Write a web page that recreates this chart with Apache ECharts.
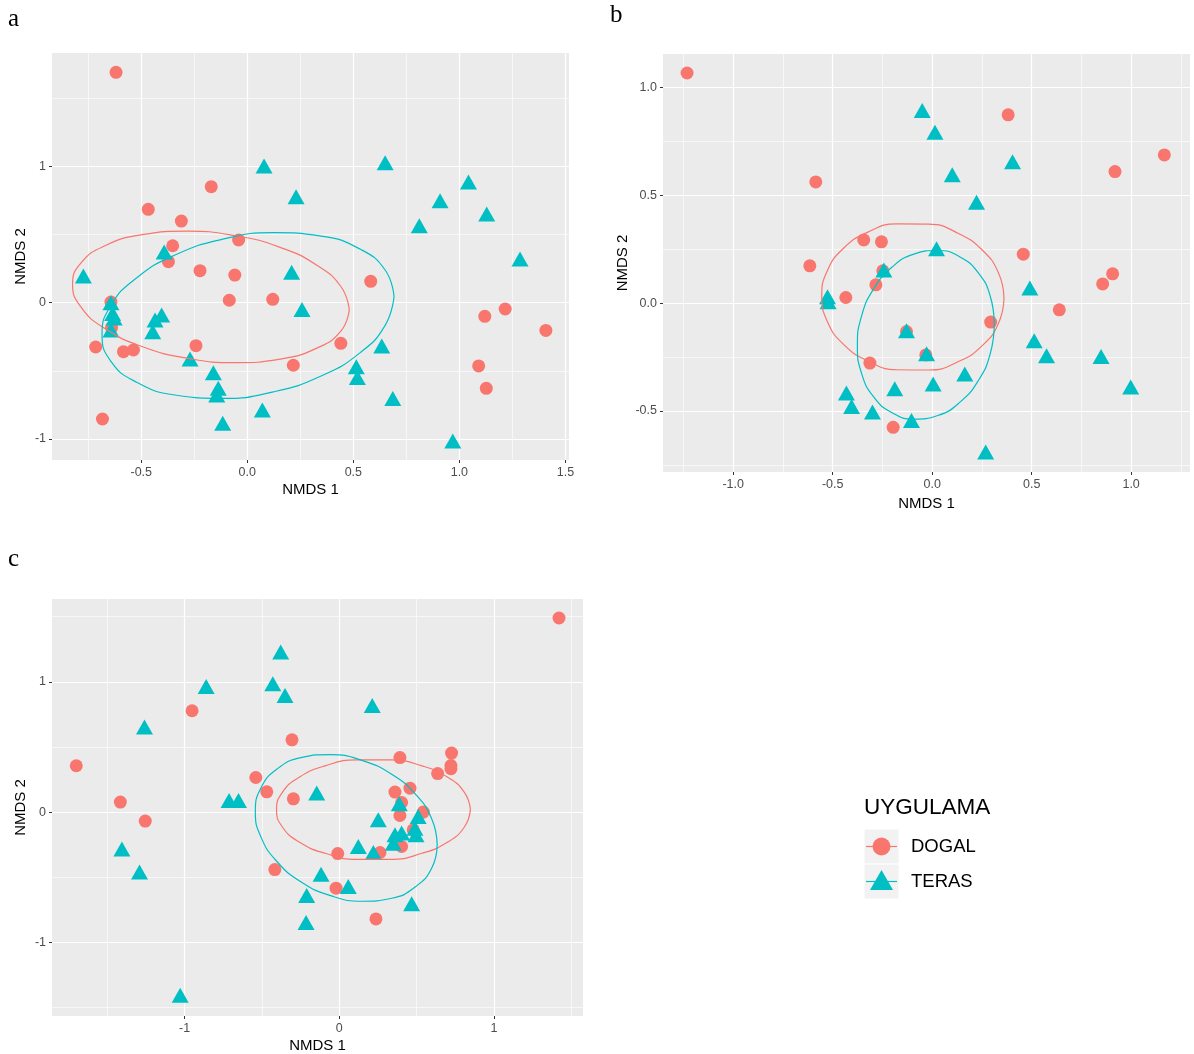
<!DOCTYPE html>
<html><head><meta charset="utf-8">
<script src="https://cdn.jsdelivr.net/npm/echarts@6/dist/echarts.min.js"></script>
<style>html,body{margin:0;padding:0;background:#fff}#c{width:1194px;height:1054px}</style>
</head><body><div id="c"></div><script>
// ---------- data (NMDS 1, NMDS 2) ----------
const aDogal = [[-0.619,1.690],[-0.170,0.851],[-0.467,0.685],[-0.311,0.599],[-0.352,0.418],[-0.041,0.460],[-0.372,0.301],[-0.223,0.235],[-0.059,0.203],[-0.085,0.018],[0.120,0.025],[-0.643,0.005],[-0.640,-0.183],[-0.715,-0.325],[-0.584,-0.359],[-0.537,-0.347],[-0.242,-0.315],[-0.683,-0.853],[0.217,-0.459],[0.582,0.157],[0.441,-0.298],[1.120,-0.100],[1.216,-0.046],[1.408,-0.203],[1.091,-0.464],[1.127,-0.628]];
const aTeras = [[0.079,1.003],[0.650,1.027],[0.230,0.778],[1.043,0.886],[0.909,0.748],[1.129,0.651],[0.811,0.565],[1.286,0.321],[-0.392,0.372],[-0.773,0.196],[0.209,0.223],[0.258,-0.049],[0.634,-0.318],[0.514,-0.469],[0.519,-0.548],[0.686,-0.702],[0.969,-1.015],[-0.643,0.0],[-0.635,-0.08],[-0.628,-0.112],[-0.643,-0.2],[-0.435,-0.127],[-0.404,-0.09],[-0.446,-0.213],[-0.270,-0.413],[-0.160,-0.513],[-0.137,-0.628],[-0.144,-0.677],[0.071,-0.787],[-0.116,-0.885]];
const bDogal = [[-1.232,1.067],[-0.585,0.562],[-0.344,0.293],[-0.255,0.284],[-0.615,0.173],[-0.283,0.085],[-0.248,0.150],[0.382,0.873],[1.167,0.687],[0.919,0.610],[0.458,0.227],[0.907,0.136],[0.857,0.089],[0.639,-0.031],[0.294,-0.088],[-0.129,-0.132],[-0.032,-0.240],[-0.196,-0.576],[-0.434,0.026],[-0.313,-0.278]];
const bTeras = [[-0.050,0.893],[0.014,0.792],[0.101,0.595],[0.404,0.656],[0.223,0.468],[0.022,0.252],[-0.243,0.154],[0.491,0.070],[-0.129,-0.128],[-0.028,-0.235],[0.513,-0.175],[0.575,-0.244],[0.849,-0.247],[0.998,-0.389],[0.164,-0.329],[0.005,-0.375],[-0.188,-0.397],[-0.104,-0.544],[0.269,-0.690],[-0.526,0.029],[-0.523,0.006],[-0.431,-0.417],[-0.405,-0.479],[-0.300,-0.505]];
const cDogal = [[-1.701,0.356],[-1.416,0.077],[-0.952,0.778],[-0.306,0.555],[-0.540,0.266],[-0.469,0.156],[-0.297,0.102],[-1.255,-0.069],[-0.417,-0.441],[1.421,1.490],[0.392,0.419],[0.726,0.453],[0.722,0.358],[0.722,0.333],[0.636,0.296],[0.457,0.184],[0.360,0.154],[0.403,0.074],[0.392,-0.026],[0.543,0.0],[0.478,-0.136],[0.403,-0.264],[0.263,-0.310],[-0.010,-0.318],[-0.021,-0.584],[0.237,-0.820]];
const cTeras = [[-0.379,1.229],[-0.430,0.985],[-0.351,0.896],[-0.861,0.965],[-1.260,0.653],[-0.713,0.089],[-0.652,0.089],[0.213,0.819],[-0.146,0.146],[-1.406,-0.284],[-1.292,-0.459],[-1.029,-1.406],[0.388,0.064],[0.510,-0.034],[0.252,-0.059],[0.489,-0.123],[0.360,-0.174],[0.403,-0.161],[0.496,-0.174],[0.349,-0.238],[0.123,-0.264],[0.220,-0.310],[-0.118,-0.476],[0.058,-0.571],[-0.211,-0.640],[-0.215,-0.848],[0.468,-0.704]];

// ellipse outlines
const aDogalEll = [[0.481,-0.051],[0.442,0.117],[0.328,0.275],[0.155,0.406],[-0.058,0.492],[-0.284,0.525],[-0.497,0.499],[-0.671,0.418],[-0.784,0.292],[-0.824,0.136],[-0.784,-0.032],[-0.671,-0.190],[-0.497,-0.321],[-0.284,-0.407],[-0.058,-0.440],[0.155,-0.414],[0.328,-0.333],[0.442,-0.207],[0.481,-0.051]];
const aTerasEll = [[0.692,0.045],[0.650,0.240],[0.531,0.394],[0.348,0.489],[0.123,0.514],[-0.116,0.466],[-0.341,0.350],[-0.524,0.180],[-0.644,-0.022],[-0.685,-0.233],[-0.644,-0.428],[-0.524,-0.582],[-0.341,-0.677],[-0.116,-0.702],[0.123,-0.654],[0.348,-0.538],[0.531,-0.368],[0.650,-0.166],[0.692,0.045]];
const bDogalEll = [[0.361,0.024],[0.333,0.141],[0.253,0.245],[0.132,0.323],[-0.018,0.366],[-0.177,0.367],[-0.326,0.328],[-0.448,0.252],[-0.527,0.150],[-0.555,0.033],[-0.527,-0.085],[-0.448,-0.189],[-0.326,-0.266],[-0.177,-0.309],[-0.018,-0.310],[0.132,-0.271],[0.253,-0.196],[0.333,-0.094],[0.361,0.024]];
const bTerasEll = [[0.312,-0.098],[0.292,0.032],[0.232,0.140],[0.140,0.214],[0.028,0.244],[-0.092,0.227],[-0.204,0.165],[-0.295,0.065],[-0.355,-0.060],[-0.376,-0.196],[-0.355,-0.325],[-0.295,-0.434],[-0.204,-0.507],[-0.092,-0.538],[0.028,-0.521],[0.140,-0.459],[0.232,-0.359],[0.292,-0.234],[0.312,-0.098]];
const cDogalEll = [[0.848,0.019],[0.809,0.152],[0.701,0.268],[0.534,0.355],[0.329,0.401],[0.112,0.401],[-0.092,0.355],[-0.259,0.268],[-0.368,0.152],[-0.406,0.019],[-0.368,-0.114],[-0.259,-0.230],[-0.092,-0.316],[0.112,-0.363],[0.329,-0.363],[0.534,-0.316],[0.701,-0.230],[0.809,-0.114],[0.848,0.019]];
const cTerasEll = [[0.633,-0.248],[0.598,-0.053],[0.495,0.134],[0.339,0.291],[0.147,0.397],[-0.057,0.442],[-0.249,0.418],[-0.405,0.329],[-0.507,0.185],[-0.543,0.005],[-0.507,-0.190],[-0.405,-0.377],[-0.249,-0.534],[-0.057,-0.641],[0.147,-0.684],[0.339,-0.661],[0.495,-0.571],[0.598,-0.429],[0.633,-0.248]];

// tick values
const aXMajor = [-0.5,0,0.5,1,1.5], aXMinor = [-0.75,-0.25,0.25,0.75,1.25];
const aYMajor = [-1,0,1], aYMinor = [-0.5,0.5,1.5];
const bXMajor = [-1,-0.5,0,0.5,1], bXMinor = [-1.25,-0.75,-0.25,0.25,0.75,1.25];
const bYMajor = [-0.5,0,0.5,1], bYMinor = [-0.75,-0.25,0.25,0.75];
const cXMajor = [-1,0,1], cXMinor = [-1.5,-0.5,0.5,1.5];
const cYMajor = [-1,0,1], cYMinor = [-1.5,-0.5,0.5,1.5];

const groups = ['DOGAL','TERAS'];
const RED = '#F8766D', TEAL = '#00BFC4';
const FONT = '"Liberation Sans", Arial, sans-serif';

const panels = [
  {grid:{left:52,top:53,width:517,height:407}, x:[-0.921,1.517], y:[-1.154,1.832], xMaj:aXMajor, xMin:aXMinor, yMaj:aYMajor, yMin:aYMinor, xf:v=>v.toFixed(1), yf:v=>String(v), yGap:24, xGap:22, pts:[aDogal,aTeras], ell:[aDogalEll,aTerasEll]},
  {grid:{left:663,top:54,width:527,height:418}, x:[-1.353,1.296], y:[-0.783,1.155], xMaj:bXMajor, xMin:bXMinor, yMaj:bYMajor, yMin:bYMinor, xf:v=>v.toFixed(1), yf:v=>v.toFixed(1), yGap:33, xGap:24, pts:[bDogal,bTeras], ell:[bDogalEll,bTerasEll]},
  {grid:{left:52,top:599,width:531,height:417}, x:[-1.858,1.576], y:[-1.565,1.636], xMaj:cXMajor, xMin:cXMinor, yMaj:cYMajor, yMin:cYMinor, xf:v=>String(v), yf:v=>String(v), yGap:24, xGap:22, pts:[cDogal,cTeras], ell:[cDogalEll,cTerasEll]}
];

const grids = [], xAxes = [], yAxes = [], series = [];
panels.forEach((p, i) => {
  grids.push(Object.assign({show:true, backgroundColor:'#EBEBEB', borderWidth:0, containLabel:false}, p.grid));
  const labelStyle = {color:'#4D4D4D', fontSize:12.5, fontFamily:FONT};
  xAxes.push({type:'value', gridIndex:i, min:p.x[0], max:p.x[1], position:'bottom',
    axisLine:{show:false, onZero:false},
    axisTick:{show:true, length:3, lineStyle:{color:'#333', width:1}, customValues:p.xMaj},
    axisLabel:Object.assign({show:true, customValues:p.xMaj, formatter:p.xf, margin:6}, labelStyle),
    splitLine:{show:true, lineStyle:{color:'#FFFFFF', width:1.2}},
    name:'NMDS 1', nameLocation:'middle', nameGap:p.xGap, nameTextStyle:{color:'#000', fontSize:15, fontFamily:FONT}});
  xAxes.push({type:'value', gridIndex:i, min:p.x[0], max:p.x[1], position:'top',
    axisLine:{show:false, onZero:false}, axisTick:{show:false, customValues:p.xMin}, axisLabel:{show:false, customValues:p.xMin},
    splitLine:{show:true, lineStyle:{color:'#FAFAFA', width:0.8}}});
  yAxes.push({type:'value', gridIndex:i, min:p.y[0], max:p.y[1], position:'left',
    axisLine:{show:false, onZero:false},
    axisTick:{show:true, length:3, lineStyle:{color:'#333', width:1}, customValues:p.yMaj},
    axisLabel:Object.assign({show:true, customValues:p.yMaj, formatter:p.yf, margin:6}, labelStyle),
    splitLine:{show:true, lineStyle:{color:'#FFFFFF', width:1.2}},
    name:'NMDS 2', nameLocation:'middle', nameGap:p.yGap, nameRotate:90, nameTextStyle:{color:'#000', fontSize:15, fontFamily:FONT}});
  yAxes.push({type:'value', gridIndex:i, min:p.y[0], max:p.y[1], position:'right',
    axisLine:{show:false, onZero:false}, axisTick:{show:false, customValues:p.yMin}, axisLabel:{show:false, customValues:p.yMin},
    splitLine:{show:true, lineStyle:{color:'#FAFAFA', width:0.8}}});
  const xi = 2*i, yi = 2*i;
  series.push({type:'scatter', name:groups[0], xAxisIndex:xi, yAxisIndex:yi, data:p.pts[0], symbol:'circle', symbolSize:13, itemStyle:{color:RED, opacity:1}, z:2, silent:true});
  series.push({type:'scatter', name:groups[1], xAxisIndex:xi, yAxisIndex:yi, data:p.pts[1], symbol:'triangle', symbolSize:[17,15], itemStyle:{color:TEAL, opacity:1}, z:3, silent:true});
  series.push({type:'line', name:groups[0]+' ellipse', xAxisIndex:xi, yAxisIndex:yi, data:p.ell[0], showSymbol:false, symbol:'none', smooth:0.5, lineStyle:{color:RED, width:1.2}, z:4, silent:true});
  series.push({type:'line', name:groups[1]+' ellipse', xAxisIndex:xi, yAxisIndex:yi, data:p.ell[1], showSymbol:false, symbol:'none', smooth:0.5, lineStyle:{color:TEAL, width:1.2}, z:4, silent:true});
});

const SERIF = '"Liberation Serif", "Times New Roman", serif';
const graphic = [
  {type:'text', left:8, top:7, style:{text:'a', font:'25px '+SERIF, fill:'#000'}},
  {type:'text', left:610, top:3, style:{text:'b', font:'25px '+SERIF, fill:'#000'}},
  {type:'text', left:8, top:547, style:{text:'c', font:'25px '+SERIF, fill:'#000'}},
  // legend
  {type:'text', left:864, top:796, style:{text:'UYGULAMA', font:'22.5px '+FONT, fill:'#000'}},
  {type:'rect', shape:{x:864, y:829, width:35, height:35}, style:{fill:'#F2F2F2', stroke:'#fff', lineWidth:1}},
  {type:'rect', shape:{x:864, y:864, width:35, height:35}, style:{fill:'#F2F2F2', stroke:'#fff', lineWidth:1}},
  {type:'circle', shape:{cx:881.5, cy:846.5, r:9}, style:{fill:RED}},
  {type:'line', shape:{x1:866, y1:846.5, x2:897, y2:846.5}, style:{stroke:RED, lineWidth:1.2}},
  {type:'polygon', shape:{points:[[881.5,870],[893,890],[870,890]]}, style:{fill:TEAL}},
  {type:'line', shape:{x1:866, y1:881.5, x2:897, y2:881.5}, style:{stroke:TEAL, lineWidth:1.2}},
  {type:'text', left:911, top:837, style:{text:'DOGAL', font:'18.5px '+FONT, fill:'#000'}},
  {type:'text', left:911, top:872, style:{text:'TERAS', font:'18.5px '+FONT, fill:'#000'}}
];

const chart = echarts.init(document.getElementById('c'), null, {renderer:'canvas'});
chart.setOption({animation:false, backgroundColor:'#fff', grid:grids, xAxis:xAxes, yAxis:yAxes, series:series, graphic:graphic});
</script></body></html>
